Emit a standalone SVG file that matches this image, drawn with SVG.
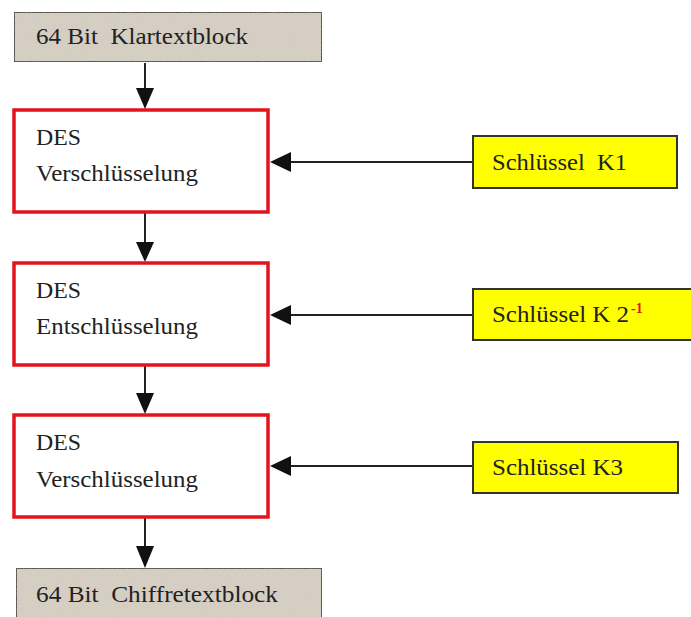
<svg xmlns="http://www.w3.org/2000/svg" width="691" height="617" viewBox="0 0 691 617">
  <style>
    .t { font-family: "Liberation Serif", "DejaVu Serif", serif; font-size: 24px; fill: #222; white-space: pre; }
    .io { fill: #d9d2c6; stroke: #333; stroke-width: 2; }
    .des { fill: #fff; stroke: #e3141b; stroke-width: 3.5; }
    .key { fill: #ffff00; stroke: #333; stroke-width: 2; }
    .wire { stroke: #222; stroke-width: 2; fill: none; }
    .head { fill: #111; }
    .sup { font-family: "Liberation Serif", "DejaVu Serif", serif; font-size: 14px; font-weight: bold; fill: #e3141b; }
  </style>
  <defs>
    <filter id="grain" x="0" y="0" width="100%" height="100%">
      <feTurbulence type="fractalNoise" baseFrequency="0.9" numOctaves="2" seed="3" result="n"/>
      <feColorMatrix in="n" type="matrix" values="0 0 0 0 0.55  0 0 0 0 0.5  0 0 0 0 0.45  0 0 0 0.35 0" result="c"/>
      <feComposite in="c" in2="SourceGraphic" operator="in" result="g"/>
      <feMerge><feMergeNode in="SourceGraphic"/><feMergeNode in="g"/></feMerge>
    </filter>
  </defs>

  <g id="connectors">
    <!-- vertical data path -->
    <line class="wire" x1="145" y1="63" x2="145" y2="89"/>
    <path class="head" d="M136,88 L154,88 L145,109 Z"/>
    <line class="wire" x1="145" y1="212" x2="145" y2="243"/>
    <path class="head" d="M136,242 L154,242 L145,262 Z"/>
    <line class="wire" x1="145" y1="366" x2="145" y2="394"/>
    <path class="head" d="M136,393 L154,393 L145,414 Z"/>
    <line class="wire" x1="145" y1="517" x2="145" y2="547"/>
    <path class="head" d="M136,546 L154,546 L145,568 Z"/>
    <!-- key inputs -->
    <line class="wire" x1="472" y1="162" x2="290" y2="162"/>
    <path class="head" d="M291,152 L291,172 L270,162 Z"/>
    <line class="wire" x1="472" y1="315" x2="290" y2="315"/>
    <path class="head" d="M291,305 L291,325 L270,315 Z"/>
    <line class="wire" x1="472" y1="466" x2="290" y2="466"/>
    <path class="head" d="M291,456 L291,476 L270,466 Z"/>
  </g>

  <g id="plaintext">
    <rect class="io" x="14" y="12" width="308" height="50" filter="url(#grain)"/>
    <text class="t" x="36" y="44" textLength="212" lengthAdjust="spacingAndGlyphs">64 Bit  Klartextblock</text>
  </g>

  <g id="des-enc-1">
    <rect class="des" x="14" y="110" width="254" height="102"/>
    <text class="t" x="36" y="145" textLength="45" lengthAdjust="spacingAndGlyphs">DES</text>
    <text class="t" x="36" y="181" textLength="162" lengthAdjust="spacingAndGlyphs">Verschlüsselung</text>
  </g>

  <g id="des-dec">
    <rect class="des" x="14" y="263" width="254" height="102"/>
    <text class="t" x="36" y="298" textLength="45" lengthAdjust="spacingAndGlyphs">DES</text>
    <text class="t" x="36" y="334" textLength="162" lengthAdjust="spacingAndGlyphs">Entschlüsselung</text>
  </g>

  <g id="des-enc-2">
    <rect class="des" x="14" y="415" width="254" height="102"/>
    <text class="t" x="36" y="450" textLength="45" lengthAdjust="spacingAndGlyphs">DES</text>
    <text class="t" x="36" y="487" textLength="162" lengthAdjust="spacingAndGlyphs">Verschlüsselung</text>
  </g>

  <g id="ciphertext">
    <rect class="io" x="16" y="568" width="306" height="60" filter="url(#grain)"/>
    <text class="t" x="36" y="602" textLength="242" lengthAdjust="spacingAndGlyphs">64 Bit  Chiffretextblock</text>
  </g>

  <g id="key-1">
    <rect class="key" x="473" y="136" width="204" height="52"/>
    <text class="t" x="492" y="170" textLength="135" lengthAdjust="spacingAndGlyphs">Schlüssel  K1</text>
  </g>

  <g id="key-2">
    <rect class="key" x="473" y="289" width="230" height="51"/>
    <text class="t" x="492" y="322" textLength="137" lengthAdjust="spacingAndGlyphs">Schlüssel K 2</text>
    <text class="sup" x="631" y="313">-1</text>
  </g>

  <g id="key-3">
    <rect class="key" x="473" y="442" width="205" height="51"/>
    <text class="t" x="492" y="475" textLength="131" lengthAdjust="spacingAndGlyphs">Schlüssel K3</text>
  </g>
</svg>
